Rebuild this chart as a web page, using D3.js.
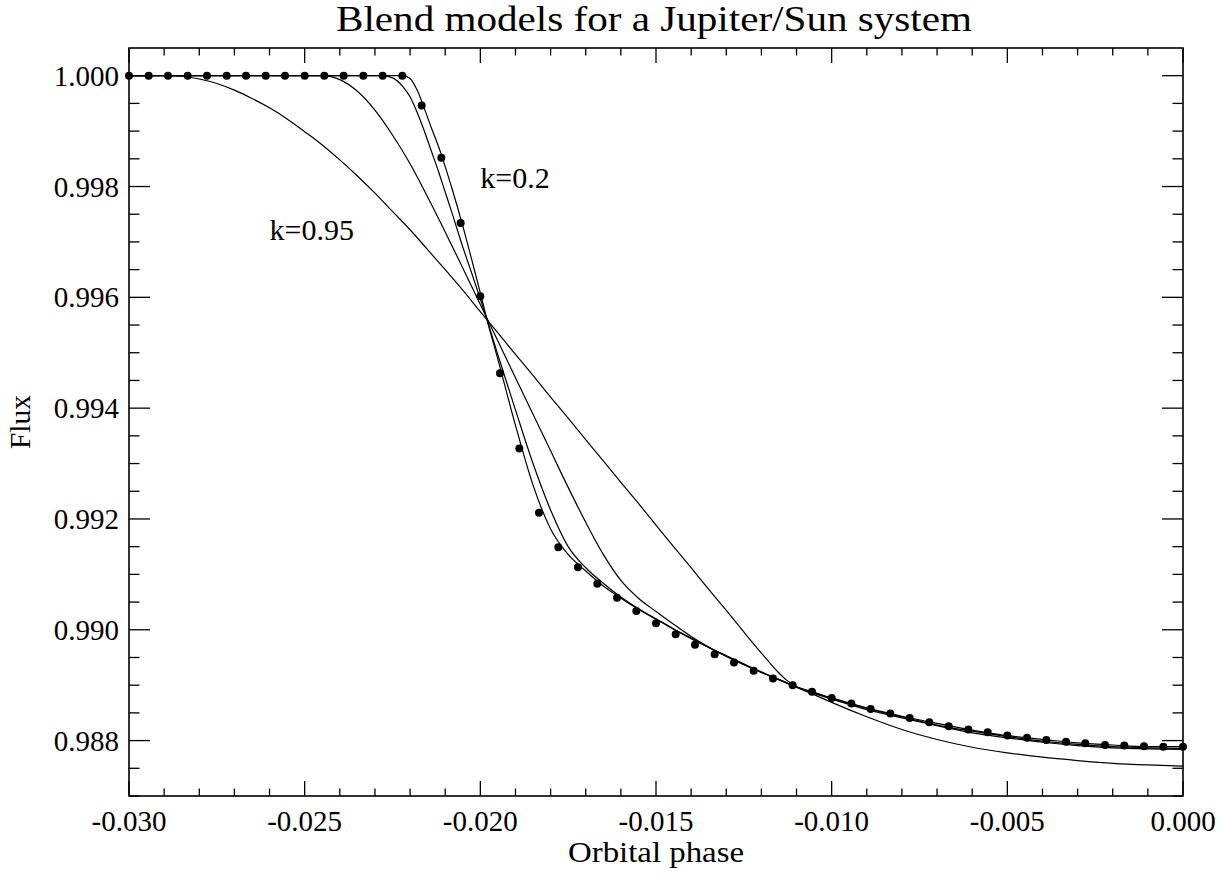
<!DOCTYPE html>
<html>
<head>
<meta charset="utf-8">
<script src="https://cdn.jsdelivr.net/npm/d3@7"></script>
<style>
  html, body { margin: 0; padding: 0; background: #fff; }
  svg { display: block; }
  text { font-family: "Liberation Serif", "DejaVu Serif", serif; fill: #000; }
</style>
</head>
<body>
<svg id="chart" width="1226" height="876"></svg>
<script>
// ---------------- data ----------------
const titleText = "Blend models for a Jupiter/Sun system";
const xLabel = "Orbital phase";
const yLabel = "Flux";

const xTicks = [-0.030, -0.025, -0.020, -0.015, -0.010, -0.005, 0.000];
const xTickLabels = ["-0.030", "-0.025", "-0.020", "-0.015", "-0.010", "-0.005", "0.000"];
const yTicks = [0.988, 0.990, 0.992, 0.994, 0.996, 0.998, 1.000];
const yTickLabels = ["0.988", "0.990", "0.992", "0.994", "0.996", "0.998", "1.000"];

// planet model (dots)
const dotPhase = [-0.03, -0.02944, -0.02889, -0.02833, -0.02778, -0.02722, -0.02667, -0.02611, -0.02556, -0.025,
  -0.02444, -0.02389, -0.02333, -0.02278, -0.02222, -0.02167, -0.02111, -0.02056, -0.02, -0.01944,
  -0.01889, -0.01833, -0.01778, -0.01722, -0.01667, -0.01611, -0.01556, -0.015, -0.01444, -0.01389,
  -0.01333, -0.01278, -0.01222, -0.01167, -0.01111, -0.01056, -0.01, -0.00944, -0.00889, -0.00833,
  -0.00778, -0.00722, -0.00667, -0.00611, -0.00556, -0.005, -0.00444, -0.00389, -0.00333, -0.00278,
  -0.00222, -0.00167, -0.00111, -0.00056, 0];
const dotFlux = [1, 1, 1, 1, 1, 1, 1, 1, 1, 1, 1, 1, 1, 1, 1,
  0.99946, 0.99852, 0.99734, 0.99602, 0.99463, 0.99327, 0.99211, 0.99149, 0.99113, 0.99083,
  0.99058, 0.99034, 0.99012, 0.98992, 0.98973, 0.98956, 0.98941, 0.98926, 0.98912, 0.98900,
  0.98888, 0.98877, 0.98867, 0.98857, 0.98849, 0.98841, 0.98833, 0.98826, 0.98820, 0.98815,
  0.98809, 0.98805, 0.98801, 0.98798, 0.98795, 0.98792, 0.98791, 0.98790, 0.98789, 0.98789];

// blend model k=0.2
const k02Phase = [-0.030, -0.0222, -0.0220, -0.0218, -0.0216, -0.0214, -0.0212, -0.0210, -0.0208, -0.0205,
  -0.0202, -0.0200, -0.0198, -0.0195, -0.019, -0.0185, -0.018, -0.0175, -0.017, -0.0165, -0.016, -0.0155,
  -0.015, -0.0145, -0.014, -0.0135, -0.013, -0.0125, -0.012, -0.0115, -0.011, -0.0105, -0.010, -0.009,
  -0.008, -0.007, -0.006, -0.005, -0.004, -0.003, -0.002, -0.001, 0];
const k02Flux = [1.0, 1.0, 0.99995, 0.99974, 0.99942, 0.99907, 0.99874, 0.99836, 0.99795, 0.99729,
  0.99657, 0.99608, 0.99557, 0.99488, 0.99369, 0.99261, 0.99182, 0.99136, 0.99106, 0.99079, 0.99057, 0.99037,
  0.99019, 0.99001, 0.98984, 0.98968, 0.98952, 0.98937, 0.98923, 0.98910, 0.98897, 0.98887, 0.98877, 0.98859,
  0.98844, 0.98831, 0.98819, 0.98809, 0.98802, 0.98796, 0.98792, 0.98789, 0.98789];

// intermediate blend model
const kbPhase = [-0.030, -0.0228, -0.0225, -0.0222, -0.0220, -0.0218, -0.0216, -0.0214, -0.0212, -0.0210,
  -0.0208, -0.0205, -0.0202, -0.0200, -0.0198, -0.0195, -0.019, -0.0185, -0.018, -0.0175, -0.017, -0.0165,
  -0.016, -0.0155, -0.015, -0.0145, -0.014, -0.0135, -0.013, -0.0125, -0.012, -0.0115, -0.011, -0.0105,
  -0.010, -0.009, -0.008, -0.007, -0.006, -0.005, -0.004, -0.003, -0.002, -0.001, 0];
const kbFlux = [1.0, 1.0, 0.99996, 0.99980, 0.99962, 0.99934, 0.99901, 0.99865, 0.99829, 0.99790,
  0.99751, 0.99691, 0.99635, 0.99597, 0.99558, 0.99496, 0.99397, 0.99300, 0.99216, 0.99150, 0.99112, 0.99084,
  0.99059, 0.99038, 0.99020, 0.99002, 0.98985, 0.98968, 0.98953, 0.98938, 0.98924, 0.98910, 0.98897, 0.98886,
  0.98876, 0.98858, 0.98843, 0.98828, 0.98817, 0.98807, 0.98799, 0.98793, 0.98789, 0.98787, 0.98786];

// intermediate blend model
const kcPhase = [-0.030, -0.0245, -0.024, -0.0235, -0.023, -0.0225, -0.022, -0.0215, -0.021, -0.0205,
  -0.020, -0.0195, -0.019, -0.0185, -0.018, -0.0175, -0.017, -0.0165, -0.016, -0.0155, -0.015, -0.0145,
  -0.014, -0.0135, -0.013, -0.0125, -0.012, -0.0115, -0.011, -0.0105, -0.010, -0.009, -0.008, -0.007,
  -0.006, -0.005, -0.004, -0.003, -0.002, -0.001, 0];
const kcFlux = [1.0, 1.0, 0.99993, 0.99972, 0.99938, 0.99893, 0.99841, 0.99781, 0.99718, 0.99653,
  0.99587, 0.99521, 0.99455, 0.99389, 0.99323, 0.99257, 0.99194, 0.99136, 0.99089, 0.99057, 0.99033, 0.99010,
  0.98988, 0.98969, 0.98953, 0.98938, 0.98923, 0.98910, 0.98896, 0.98885, 0.98875, 0.98856, 0.98841, 0.98827,
  0.98814, 0.98805, 0.98797, 0.98791, 0.98787, 0.98785, 0.98784];

// blend model k=0.95
const k095Phase = [-0.030, -0.029, -0.0285, -0.028, -0.0275, -0.027, -0.0265, -0.026, -0.0255, -0.025,
  -0.0245, -0.024, -0.0235, -0.023, -0.0225, -0.022, -0.0215, -0.021, -0.0205, -0.020, -0.0195, -0.019,
  -0.0185, -0.018, -0.0175, -0.017, -0.0165, -0.016, -0.0155, -0.015, -0.0145, -0.014, -0.0135, -0.013,
  -0.0125, -0.012, -0.0115, -0.0113, -0.011, -0.0108, -0.0105, -0.010, -0.009, -0.008, -0.007, -0.006,
  -0.005, -0.004, -0.003, -0.002, -0.001, 0];
const k095Flux = [1.0, 1.0, 0.99999, 0.99994, 0.99986, 0.99974, 0.99959, 0.99942, 0.99922, 0.99899,
  0.99875, 0.99848, 0.99819, 0.99788, 0.99755, 0.99722, 0.99686, 0.99650, 0.99613, 0.99574, 0.99536, 0.99497,
  0.99459, 0.99420, 0.99382, 0.99343, 0.99305, 0.99266, 0.99228, 0.99189, 0.99150, 0.99112, 0.99073, 0.99035,
  0.98996, 0.98958, 0.98922, 0.98910, 0.98897, 0.98891, 0.98883, 0.98869, 0.98843, 0.98820, 0.98802, 0.98788,
  0.98778, 0.98770, 0.98764, 0.98759, 0.98756, 0.98754];

const annotations = [
  { text: "k=0.2", phase: -0.0200, flux: 0.99798 },
  { text: "k=0.95", phase: -0.0260, flux: 0.99704 }
];

// ---------------- layout ----------------
const W = 1226, H = 876;
const margin = { left: 129, right: 43, top: 48, bottom: 80 };
const x0 = margin.left, x1 = W - margin.right;
const y0 = margin.top, y1 = H - margin.bottom;

const svg = d3.select("#chart");
const x = d3.scaleLinear().domain([-0.030, 0.000]).range([x0, x1]);
const y = d3.scaleLinear().domain([0.987, 1.0005]).range([y1, y0]);

const xMajorLen = 15, xMinorLen = 7.5, yMajorLen = 21, yMinorLen = 10.5;
const xMinor = d3.range(0, 31).map(i => -0.030 + i * 0.001);
const yMinor = d3.range(0, 28).map(i => 0.987 + i * 0.0005).filter(v => v < 1.0004);

const plot = svg.append("g");

// curves
const line = d3.line()
  .x(d => x(d[0]))
  .y(d => y(d[1]))
  .curve(d3.curveMonotoneX);

const series = [
  [k095Phase, k095Flux],
  [kcPhase, kcFlux],
  [kbPhase, kbFlux],
  [k02Phase, k02Flux]
];
series.forEach(([p, f]) => {
  plot.append("path")
    .datum(p.map((v, i) => [v, f[i]]))
    .attr("d", line)
    .attr("fill", "none")
    .attr("stroke", "#000")
    .attr("stroke-width", 1.2);
});

// dots
plot.selectAll("circle.dot")
  .data(dotPhase.map((v, i) => [v, dotFlux[i]]))
  .enter().append("circle")
  .attr("class", "dot")
  .attr("cx", d => x(d[0]))
  .attr("cy", d => y(d[1]))
  .attr("r", 4)
  .attr("fill", "#000");

// frame
svg.append("rect")
  .attr("x", x0).attr("y", y0)
  .attr("width", x1 - x0).attr("height", y1 - y0)
  .attr("fill", "none").attr("stroke", "#000").attr("stroke-width", 1.6);

// ticks
const tickG = svg.append("g").attr("stroke", "#000").attr("stroke-width", 1.3);
const isMajorX = v => xTicks.some(t => Math.abs(t - v) < 1e-9);
const isMajorY = v => yTicks.some(t => Math.abs(t - v) < 1e-9);

xMinor.forEach(v => {
  const len = isMajorX(v) ? xMajorLen : xMinorLen;
  const px = x(v);
  tickG.append("line").attr("x1", px).attr("x2", px).attr("y1", y1).attr("y2", y1 - len);
  tickG.append("line").attr("x1", px).attr("x2", px).attr("y1", y0).attr("y2", y0 + len);
});
yMinor.forEach(v => {
  const len = isMajorY(v) ? yMajorLen : yMinorLen;
  const py = y(v);
  tickG.append("line").attr("x1", x0).attr("x2", x0 + len).attr("y1", py).attr("y2", py);
  tickG.append("line").attr("x1", x1).attr("x2", x1 - len).attr("y1", py).attr("y2", py);
});

// tick labels
xTicks.forEach((v, i) => {
  svg.append("text")
    .attr("x", x(v)).attr("y", y1 + 35)
    .attr("text-anchor", "middle")
    .attr("font-size", 29)
    .text(xTickLabels[i]);
});
yTicks.forEach((v, i) => {
  svg.append("text")
    .attr("x", x0 - 10).attr("y", y(v) + 10)
    .attr("text-anchor", "end")
    .attr("font-size", 29)
    .text(yTickLabels[i]);
});

// titles
svg.append("text")
  .attr("x", 654).attr("y", 31)
  .attr("text-anchor", "middle")
  .attr("font-size", 35)
  .attr("textLength", 636)
  .attr("lengthAdjust", "spacingAndGlyphs")
  .text(titleText);
svg.append("text")
  .attr("x", 656).attr("y", 862)
  .attr("text-anchor", "middle")
  .attr("font-size", 29)
  .attr("textLength", 176)
  .attr("lengthAdjust", "spacingAndGlyphs")
  .text(xLabel);
svg.append("text")
  .attr("transform", `translate(30, ${(y0 + y1) / 2}) rotate(-90)`)
  .attr("text-anchor", "middle")
  .attr("font-size", 29)
  .attr("textLength", 54)
  .attr("lengthAdjust", "spacingAndGlyphs")
  .text(yLabel);

// annotations
annotations.forEach(a => {
  svg.append("text")
    .attr("x", x(a.phase)).attr("y", y(a.flux))
    .attr("font-size", 30)
    .text(a.text);
});
</script>
</body>
</html>
